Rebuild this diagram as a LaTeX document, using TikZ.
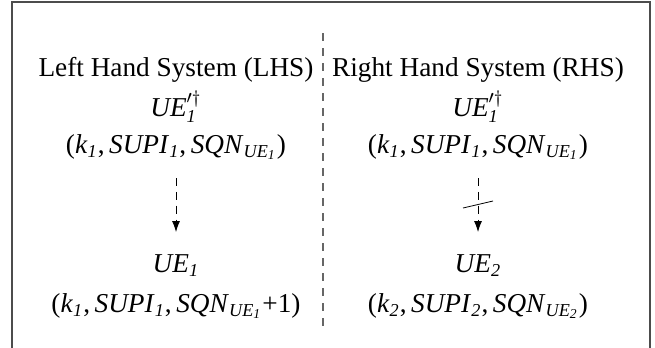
\documentclass[tikz,border=0pt]{standalone}
\usepackage{amsmath}
\usepackage{fontspec}
\setmainfont{Liberation Serif}
\usetikzlibrary{arrows.meta}
\newcommand{\sbi}[1]{\ensuremath{_{\text{\itshape #1}}}}
\tikzset{
  lbl/.style={anchor=base, inner sep=0pt, font=\fontsize{12}{14}\selectfont},
  frame/.style={draw=black!70, line width=0.5pt},
  divider/.style={draw=black!60, line width=0.5pt, dash pattern=on 3.5pt off 3.1pt},
  flow/.style={draw=black, line width=0.35pt, dash pattern=on 3.5pt off 2.6pt, -{Latex[length=4.8pt,width=3.5pt]}},
  cut/.style={draw=black, line width=0.35pt}
}
\begin{document}
\begin{tikzpicture}[x=0.44pt,y=-0.44pt]
\useasboundingbox (0,0) rectangle (655,347);
\draw[frame] (12,350) -- (12,2) -- (650,2) -- (650,350);
\draw[divider] (323,33) -- (323,331);
% left column
\node[lbl] (lhs) at (176,76) {Left Hand System (LHS)};
\node[lbl] (la) at (176,116) {\textit{UE}$^{\prime\dagger}_{\text{\itshape 1}}$};
\node[lbl] (lb) at (176,153) {(\textit{k}\sbi{1},\,\textit{SUPI}\sbi{1},\,\textit{SQN}\sbi{UE\sbi{1}})};
\node[lbl] (lc) at (176,272) {\textit{UE}\sbi{1}};
\node[lbl] (ld) at (176,312) {(\textit{k}\sbi{1},\,\textit{SUPI}\sbi{1},\,\textit{SQN}\sbi{UE\sbi{1}}{+}1)};
% right column
\node[lbl] (rhs) at (478,76) {Right Hand System (RHS)};
\node[lbl] (ra) at (478,116) {\textit{UE}$^{\prime\dagger}_{\text{\itshape 1}}$};
\node[lbl] (rb) at (478,153) {(\textit{k}\sbi{1},\,\textit{SUPI}\sbi{1},\,\textit{SQN}\sbi{UE\sbi{1}})};
\node[lbl] (rc) at (478,272) {\textit{UE}\sbi{2}};
\node[lbl] (rd) at (478,312) {(\textit{k}\sbi{2},\,\textit{SUPI}\sbi{2},\,\textit{SQN}\sbi{UE\sbi{2}})};
% arrows
\coordinate (l1) at (176,178);
\coordinate (l2) at (176,232);
\coordinate (r1) at (478,178);
\coordinate (r2) at (478,232);
\draw[flow] (l1) -- (l2);
\draw[flow] (r1) -- (r2);
\coordinate (s1) at (463,208);
\coordinate (s2) at (493,201);
\draw[cut] (s1) -- (s2);
\end{tikzpicture}
\end{document}
